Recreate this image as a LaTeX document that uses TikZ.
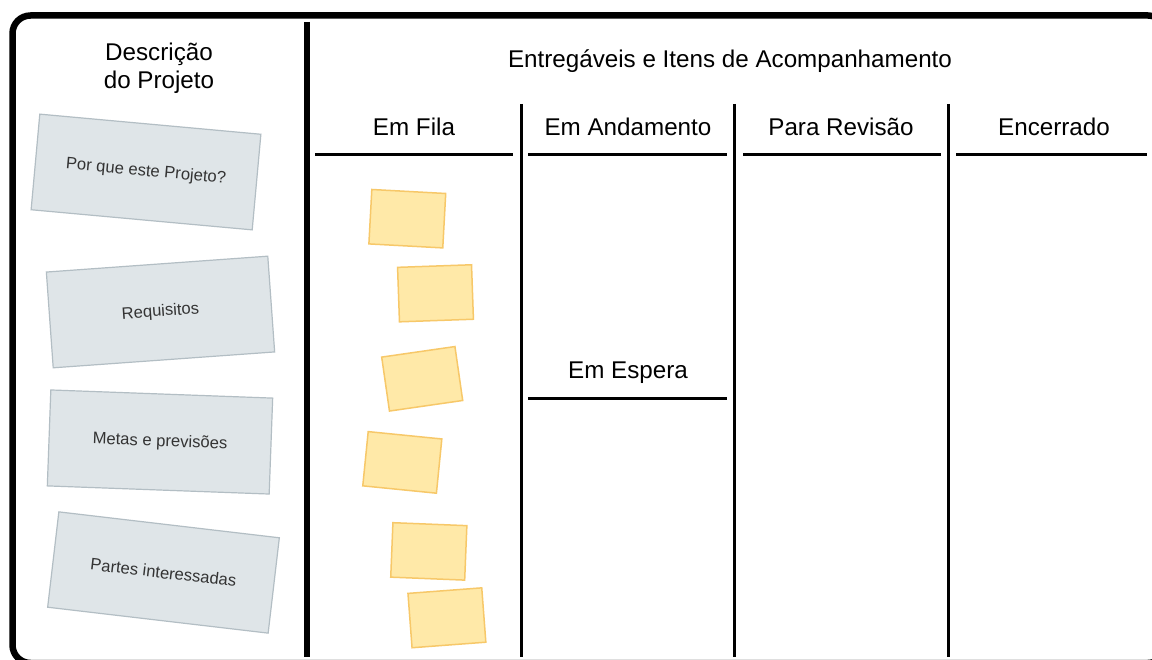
\documentclass[tikz,border=0pt]{standalone}
\usepackage{fontspec}
\setmainfont{Liberation Sans}
\definecolor{cardfill}{HTML}{DFE5E8}
\definecolor{cardline}{HTML}{B3BEC4}
\definecolor{notefill}{HTML}{FFE9A8}
\definecolor{noteline}{HTML}{F7C869}
\definecolor{cardtext}{HTML}{333333}
\begin{document}
\begin{tikzpicture}[x=1pt,y=-1pt,
  framebox/.style={line width=6.5pt, rounded corners=18pt},
  maindiv/.style={line width=5.5pt},
  coldiv/.style={line width=3pt},
  headline/.style={line width=3pt},
  headtext/.style={font=\fontsize{24.2}{28}\selectfont, anchor=base, inner sep=0pt},
  graycard/.style={draw=cardline, fill=cardfill, line width=1.2pt, minimum width=222pt, minimum height=96pt, inner sep=0pt, text=cardtext, font=\fontsize{16.6}{19}\selectfont},
  sticky/.style={draw=noteline, fill=notefill, line width=1.5pt, minimum width=74pt, minimum height=54.5pt, inner sep=0pt}
]
\useasboundingbox (0,0) rectangle (1152,660);
\clip (0,0) rectangle (1152,660);
\fill[white] (0,0) rectangle (1152,660);
% outer frame
\draw[framebox] (12.5,15.5) rectangle (1166,663);
% dividers
\coordinate (m1) at (307,22); \coordinate (m2) at (307,657);
\draw[maindiv] (m1) -- (m2);
\foreach \x/\n in {521/a,734.5/b,948.5/c}{
  \coordinate (t\n) at (\x,104); \coordinate (b\n) at (\x,657);
  \draw[coldiv] (t\n) -- (b\n);
}
% header lines
\foreach \xa/\xb/\n in {315/513/1,528/727/2,743/941/3,956/1147/4}{
  \coordinate (hl\n) at (\xa,155); \coordinate (hr\n) at (\xb,155);
  \draw[headline] (hl\n) -- (hr\n);
}
\coordinate (el) at (528,399); \coordinate (er) at (727,399);
\draw[headline] (el) -- (er);
% texts
\node[headtext] (desc1) at (159,61) {Descrição};
\node[headtext] (desc2) at (159,89) {do Projeto};
\node[headtext] (entreg) at (730,68) {Entregáveis e Itens de Acompanhamento};
\node[headtext] (fila) at (414,135.5) {Em Fila};
\node[headtext] (andam) at (628,135.5) {Em Andamento};
\node[headtext] (revis) at (841,135.5) {Para Revisão};
\node[headtext] (encer) at (1054,135.5) {Encerrado};
\node[headtext] (esper) at (628,378.5) {Em Espera};
% gray cards
\node[graycard, rotate=-5.2] (c1) at (146,172) {Por que este Projeto?};
\node[graycard, rotate=4.1] (c2) at (160.5,312) {Requisitos};
\node[graycard, rotate=-2.1] (c3) at (160,442) {Metas e previsões};
\node[graycard, rotate=-6.7] (c4) at (163.5,572.5) {Partes interessadas};
% sticky notes
\node[sticky, rotate=-3.1] (n1) at (407.3,218.7) {};
\node[sticky, rotate=2] (n2) at (435.5,293.3) {};
\node[sticky, rotate=8.2] (n3) at (422.2,378.8) {};
\node[sticky, rotate=-5.7] (n4) at (402.3,462.4) {};
\node[sticky, rotate=-2.3] (n5) at (428.8,551.4) {};
\node[sticky, rotate=4.3] (n6) at (446.9,617.8) {};
\end{tikzpicture}
\end{document}
